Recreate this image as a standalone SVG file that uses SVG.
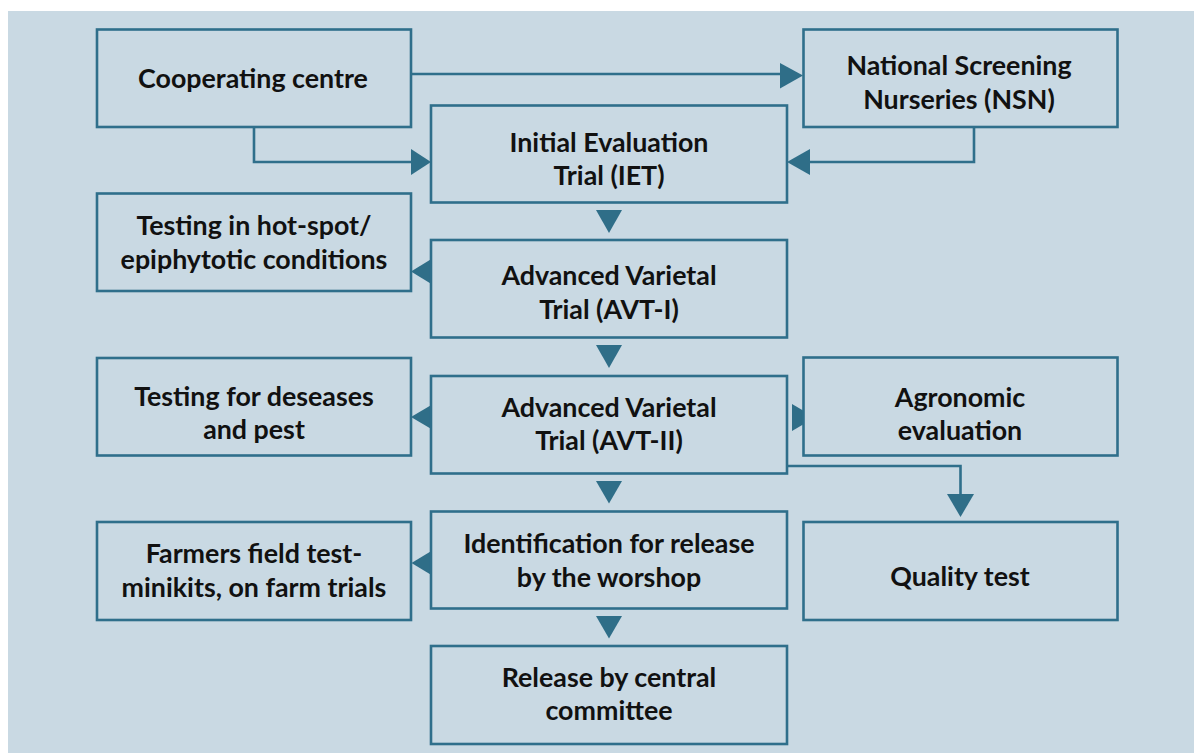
<svg xmlns="http://www.w3.org/2000/svg" width="1198" height="753" viewBox="0 0 1198 753">
<style>
.bg{fill:#c9d9e3}
.box{fill:#c9d9e3;stroke:#2f6f8b;stroke-width:2.6}
.t{font-family:Lato,"Liberation Sans",sans-serif;font-weight:bold;font-size:26.8px;fill:#111;text-anchor:middle}
.ln{fill:none;stroke:#2f6f8b;stroke-width:2.6}
.ah{fill:#2f6e88}
</style>
<rect class="bg" x="8" y="11" width="1186" height="742"/>
<g id="connectors">
<line class="ln" x1="411" y1="74" x2="782" y2="74"/>
<polygon class="ah" points="780,63 803,75.5 780,88.5"/>
<polyline class="ln" points="254,127 254,162 412,162"/>
<polygon class="ah" points="411,149 431,162 411,175"/>
<polyline class="ln" points="974,127 974,162 808,162"/>
<polygon class="ah" points="810,149 787,162 810,175"/>
<polygon class="ah" points="596,210 622,210 609,233"/>
<polygon class="ah" points="433,258 411,271.5 433,285"/>
<polygon class="ah" points="596,345 622,345 609,368"/>
<polygon class="ah" points="433,404 411,417 433,430"/>
<polygon class="ah" points="792,404 815,417.5 792,431"/>
<polyline class="ln" points="787,466 960.5,466 960.5,496"/>
<polygon class="ah" points="947,494 974,494 960.5,517"/>
<polygon class="ah" points="596,481 622,481 609,503.5"/>
<polygon class="ah" points="433,550 411.5,563 433,576"/>
<polygon class="ah" points="596,616 622,616 609,638.5"/>
</g>
<g id="coop"><rect class="box" x="97" y="29.5" width="314" height="97.5"/><text class="t" x="253" y="88">Cooperating centre</text></g>
<g id="nsn"><rect class="box" x="803.5" y="29.5" width="314" height="97.5"/><text class="t" x="959" y="75">National Screening</text><text class="t" x="959" y="108.5">Nurseries (NSN)</text></g>
<g id="iet"><rect class="box" x="431" y="105.5" width="356" height="97"/><text class="t" x="609" y="151.5">Initial Evaluation</text><text class="t" x="609" y="185">Trial (IET)</text></g>
<g id="hotspot"><rect class="box" x="97" y="193.5" width="314" height="97.5"/><text class="t" x="254" y="235">Testing in hot-spot/</text><text class="t" x="254" y="268.5">epiphytotic conditions</text></g>
<g id="avt1"><rect class="box" x="431" y="240" width="356" height="97.5"/><text class="t" x="609" y="285">Advanced Varietal</text><text class="t" x="609" y="318.5">Trial (AVT-I)</text></g>
<g id="diseases"><rect class="box" x="97" y="358" width="314" height="97.5"/><text class="t" x="254" y="405.5">Testing for deseases</text><text class="t" x="254" y="439">and pest</text></g>
<g id="avt2"><rect class="box" x="431" y="376" width="356" height="97.5"/><text class="t" x="609" y="416.5">Advanced Varietal</text><text class="t" x="609" y="450">Trial (AVT-II)</text></g>
<g id="agronomic"><rect class="box" x="803.5" y="357.5" width="314" height="98"/><text class="t" x="960" y="406.5">Agronomic</text><text class="t" x="960" y="440">evaluation</text></g>
<g id="farmers"><rect class="box" x="97" y="522" width="314" height="98"/><text class="t" x="254" y="562.5">Farmers field test-</text><text class="t" x="254" y="596.5">minikits, on farm trials</text></g>
<g id="identification"><rect class="box" x="431" y="511.5" width="356" height="97"/><text class="t" x="609" y="553">Identification for release</text><text class="t" x="609" y="587">by the worshop</text></g>
<g id="quality"><rect class="box" x="803.5" y="522" width="314" height="98"/><text class="t" x="960" y="585.5">Quality test</text></g>
<g id="release"><rect class="box" x="431" y="646" width="356" height="98"/><text class="t" x="609" y="686.5">Release by central</text><text class="t" x="609" y="720">committee</text></g>
</svg>
